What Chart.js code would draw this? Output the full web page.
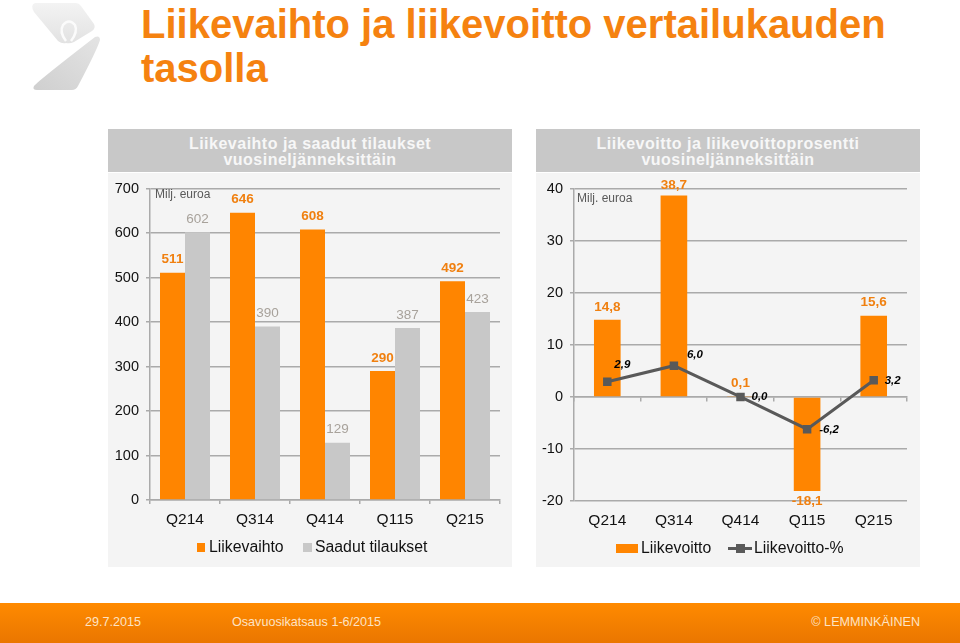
<!DOCTYPE html>
<html lang="fi">
<head>
<meta charset="utf-8">
<title>Liikevaihto ja liikevoitto vertailukauden tasolla</title>
<script src="https://cdn.jsdelivr.net/npm/chart.js@4"></script>
<style>
  html, body { margin: 0; padding: 0; background: #fff; }
  body { position: relative; width: 960px; height: 643px; overflow: hidden; font-family: "Liberation Sans", Arial, sans-serif; }
  .abs { position: absolute; white-space: nowrap; }
  h1 { position: absolute; left: 141px; top: 2px; width: 790px; margin: 0; font-size: 40px; line-height: 44px; font-weight: bold; color: #f58210; }
  .head { position: absolute; top: 129px; height: 43px; background: #c8c8c8; color: #f7f7f7; font-weight: bold; font-size: 16px; line-height: 16px; text-align: center; letter-spacing: 0.5px; padding-top: 7px; box-sizing: border-box; }
  .panel { position: absolute; top: 173px; height: 394px; background: #f4f4f4; }
  canvas { position: absolute; left: 0; top: 0; }
  .unit { font-size: 12px; color: #595959; line-height: 14px; }
  .leg { font-size: 15.8px; color: #111; line-height: 18px; }
  .sw { position: absolute; }
  #footer { position: absolute; left: 0; top: 603px; width: 960px; height: 40px; background: linear-gradient(#ff8a00, #ea7600); }
  #footer span { position: absolute; top: 11px; font-size: 12.6px; line-height: 16px; color: #fde3c4; white-space: nowrap; }
</style>
</head>
<body>
<svg class="abs" style="left:0;top:0" width="110" height="100" viewBox="0 0 110 100">
  <defs>
    <linearGradient id="logoTop" x1="0" y1="0" x2="0" y2="1"><stop offset="0" stop-color="#f3f3f3"/><stop offset="1" stop-color="#e2e2e2"/></linearGradient>
    <linearGradient id="logoBottom" x1="1" y1="0" x2="0" y2="1"><stop offset="0" stop-color="#e4e4e4"/><stop offset="1" stop-color="#cfcfcf"/></linearGradient>
  </defs>
  <path fill="url(#logoTop)" d="M35 3 H76 Q79 3 81 6 L94 24 Q96 28 92 31 L74 42 Q70 44 66 43 Q62 44 58 41 L34 12 Q30 5 35 3 Z"/>
  <path fill="none" stroke="#fbfbfb" stroke-width="2.5" d="M66 41 Q59 32 63 25 Q69 18 75 25 Q78 32 71 41"/>
  <path fill="url(#logoBottom)" d="M95 37 Q100 35 100 40 Q97 50 78 86 Q76 90 72 90 H37 Q32 90 34 86 Q38 81 95 37 Z"/>
</svg>
<h1>Liikevaihto ja liikevoitto vertailukauden tasolla</h1>

<div class="head" style="left:108px;width:404px">Liikevaihto ja saadut tilaukset<br>vuosineljänneksittäin</div>
<div class="panel" style="left:108px;width:404px">
  <canvas id="salesChart" width="404" height="394"></canvas>
  <div class="abs unit" style="left:47px;top:14px">Milj. euroa</div>
  <div class="sw" style="left:89px;top:370px;width:8px;height:9px;background:#ff8500"></div>
  <div class="abs leg" style="left:101px;top:365px">Liikevaihto</div>
  <div class="sw" style="left:195px;top:370px;width:9px;height:9px;background:#c8c8c8"></div>
  <div class="abs leg" style="left:207px;top:365px">Saadut tilaukset</div>
</div>

<div class="head" style="left:536px;width:384px">Liikevoitto ja liikevoittoprosentti<br>vuosineljänneksittäin</div>
<div class="panel" style="left:536px;width:384px">
  <canvas id="profitChart" width="384" height="394"></canvas>
  <div class="abs unit" style="left:41px;top:18px">Milj. euroa</div>
  <div class="sw" style="left:80px;top:371px;width:22px;height:9px;background:#ff8500"></div>
  <div class="abs leg" style="left:105px;top:366px">Liikevoitto</div>
  <div class="sw" style="left:192px;top:374px;width:24px;height:3px;background:#595959"></div>
  <div class="sw" style="left:200px;top:371px;width:9px;height:9px;background:#595959"></div>
  <div class="abs leg" style="left:218px;top:366px">Liikevoitto-%</div>
</div>

<div id="footer">
  <span style="left:85px">29.7.2015</span>
  <span style="left:232px">Osavuosikatsaus 1-6/2015</span>
  <span style="right:40px">© LEMMINKÄINEN</span>
</div>

<script>
const quarters = ['Q214', 'Q314', 'Q414', 'Q115', 'Q215'];
const netSales = [511, 646, 608, 290, 492];
const ordersReceived = [602, 390, 129, 387, 423];
const operatingProfit = [14.8, 38.7, 0.1, -18.1, 15.6];
const operatingMargin = [2.9, 6.0, 0.0, -6.2, 3.2];

const ORANGE = '#ff8500';
const LIGHT_GREY = '#c8c8c8';
const DARK_GREY = '#595959';
const GRID = '#aaaaaa';
const FONT = '"Liberation Sans", Arial, sans-serif';

const fi = (v) => v.toFixed(1).replace('.', ',');

// value labels, drawn at the position of each element
const valueLabels = {
  id: 'valueLabels',
  afterDatasetsDraw(chart) {
    const { ctx } = chart;
    chart.data.datasets.forEach((ds, i) => {
      const style = ds.valueLabel;
      if (!style) return;
      chart.getDatasetMeta(i).data.forEach((el, j) => {
        const off = style.offset(j, ds.data[j]);
        ctx.save();
        ctx.font = style.font;
        ctx.fillStyle = style.color;
        ctx.textAlign = 'center';
        ctx.textBaseline = 'middle';
        ctx.fillText(style.format(ds.data[j]), el.x + off[0], el.y + off[1]);
        ctx.restore();
      });
    });
  },
};

function fixedWidth(w) {
  return (scale) => { scale.width = w; };
}
function fixedHeight(h) {
  return (scale) => { scale.height = h; };
}

const tickFont = { family: FONT, size: 14.5 };
const catFont = { family: FONT, size: 15.5 };

new Chart(document.getElementById('salesChart'), {
  type: 'bar',
  data: {
    labels: quarters,
    datasets: [
      {
        label: 'Liikevaihto',
        data: netSales,
        backgroundColor: ORANGE,
        valueLabel: {
          font: `bold 13.5px ${FONT}`,
          color: '#f08010',
          format: String,
          offset: () => [0, -13],
        },
      },
      {
        label: 'Saadut tilaukset',
        data: ordersReceived,
        backgroundColor: LIGHT_GREY,
        valueLabel: {
          font: `13.5px ${FONT}`,
          color: '#a8a29b',
          format: String,
          offset: () => [0, -13],
        },
      },
    ],
  },
  plugins: [valueLabels],
  options: {
    responsive: false,
    animation: false,
    layout: { padding: { top: 15, right: 12, left: 0, bottom: 0 } },
    plugins: { legend: { display: false }, tooltip: { enabled: false } },
    datasets: { bar: { categoryPercentage: 50 / 70, barPercentage: 1 } },
    scales: {
      x: {
        afterFit: fixedHeight(67),
        grid: { drawOnChartArea: false, color: GRID, lineWidth: 1.5, tickLength: 4 },
        border: { color: GRID, width: 1.5 },
        ticks: { color: '#111', font: catFont, padding: 6, maxRotation: 0 },
      },
      y: {
        min: 0,
        max: 700,
        afterFit: fixedWidth(42),
        grid: { color: GRID, lineWidth: 1.5, tickLength: 4 },
        border: { color: GRID, width: 1.5 },
        ticks: { stepSize: 100, color: '#111', font: tickFont, padding: 7 },
      },
    },
  },
});

const marginLabelOffsets = [[15, -17], [21, -11], [19, 0], [22, 1], [19, 1]];
const profitLabelOffsets = [-13, -10, -13, 10, -13];

new Chart(document.getElementById('profitChart'), {
  data: {
    labels: quarters,
    datasets: [
      {
        type: 'line',
        label: 'Liikevoitto-%',
        data: operatingMargin,
        order: 0,
        borderColor: DARK_GREY,
        backgroundColor: DARK_GREY,
        borderWidth: 3,
        tension: 0,
        pointStyle: 'rect',
        pointRadius: 6,
        pointBorderWidth: 0,
        valueLabel: {
          font: `italic bold 11.5px ${FONT}`,
          color: '#000',
          format: fi,
          offset: (j) => marginLabelOffsets[j],
        },
      },
      {
        type: 'bar',
        label: 'Liikevoitto',
        data: operatingProfit,
        order: 1,
        backgroundColor: ORANGE,
        categoryPercentage: 1,
        barPercentage: 0.4,
        valueLabel: {
          font: `bold 13.5px ${FONT}`,
          color: '#f08010',
          format: fi,
          offset: (j) => [0, profitLabelOffsets[j]],
        },
      },
    ],
  },
  plugins: [valueLabels],
  options: {
    responsive: false,
    animation: false,
    layout: { padding: { top: 15, right: 13, left: 0, bottom: 0 } },
    plugins: { legend: { display: false }, tooltip: { enabled: false } },
    scales: {
      x: {
        type: 'category',
        offset: true,
        afterFit: fixedHeight(66),
        grid: { display: false },
        border: { display: false },
        ticks: { color: '#111', font: catFont, padding: 2, maxRotation: 0 },
      },
      // zero line with its tick marks, labels stay on the bottom axis
      zero: {
        type: 'category',
        axis: 'x',
        labels: quarters,
        offset: true,
        position: { y: 0 },
        grid: { offset: true, drawOnChartArea: false, color: GRID, lineWidth: 1.5, tickLength: 4 },
        border: { color: GRID, width: 1.5 },
        ticks: { display: false },
      },
      y: {
        min: -20,
        max: 40,
        afterFit: fixedWidth(38),
        grid: { color: GRID, lineWidth: 1.5, tickLength: 4 },
        border: { color: GRID, width: 1.5 },
        ticks: { stepSize: 10, color: '#111', font: tickFont, padding: 7 },
      },
    },
  },
});
</script>
</body>
</html>
